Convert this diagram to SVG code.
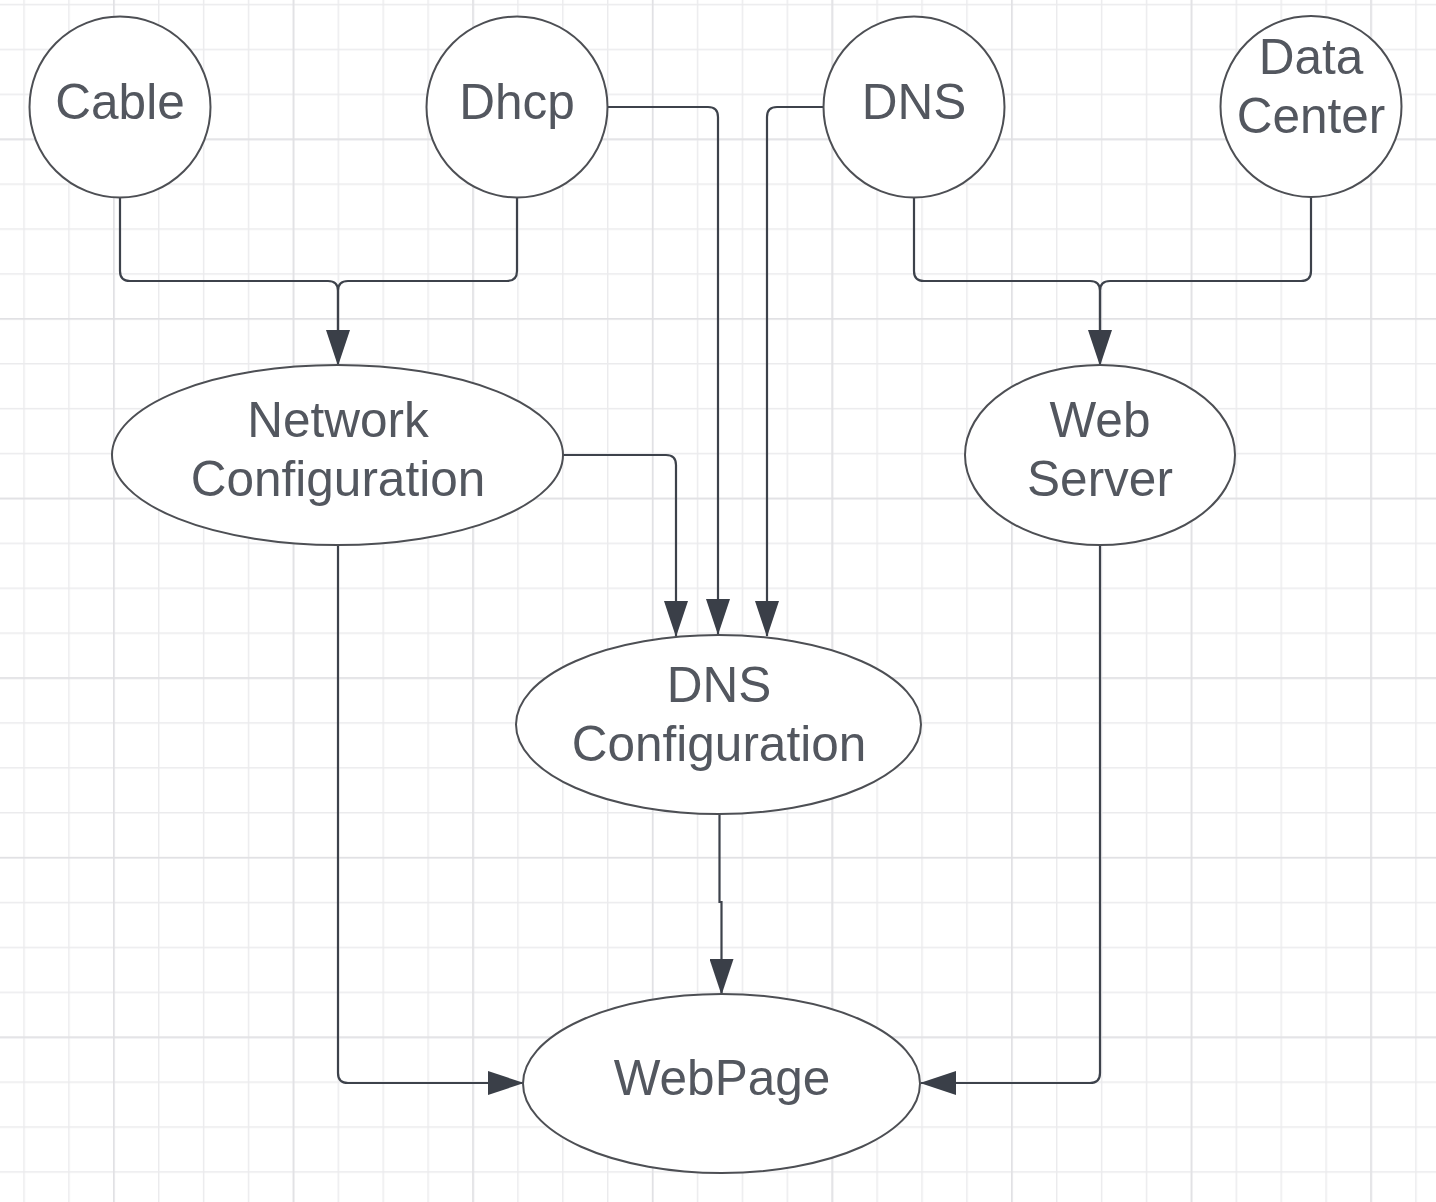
<svg xmlns="http://www.w3.org/2000/svg" width="1436" height="1202" viewBox="0 0 1436 1202">
  <defs>
    <pattern id="minor" patternUnits="userSpaceOnUse" x="23.3" y="3.8" width="44.9" height="44.9">
      <path d="M0.7,0 V44.9 M0,0.7 H44.9" fill="none" stroke="#ebebed" stroke-width="1.5"/>
    </pattern>
    <pattern id="major" patternUnits="userSpaceOnUse" x="113.1" y="138.5" width="179.6" height="179.6">
      <path d="M0.7,0 V179.6 M0,0.7 H179.6" fill="none" stroke="#e0e0e3" stroke-width="1.6"/>
    </pattern>
    <marker id="arrow" viewBox="0 0 36 24" markerWidth="36" markerHeight="24" refX="35" refY="12" orient="auto" markerUnits="userSpaceOnUse">
      <path d="M0,0 L36,12 L0,24 Z" fill="#3a3f48"/>
    </marker>
    <style>
      .node { fill: #ffffff; stroke: #4d4f54; stroke-width: 2; }
      .label { font-family: "Liberation Sans", Arial, sans-serif; font-size: 49.5px; fill: #53575f; text-anchor: middle; }
      .edge { fill: none; stroke: #3d424b; stroke-width: 2.2; }
    </style>
  </defs>

  <rect width="1436" height="1202" fill="#ffffff"/>
  <rect width="1436" height="1202" fill="url(#minor)"/>
  <rect width="1436" height="1202" fill="url(#major)"/>

  <g id="connectors">
    <path class="edge" d="M120,197 V271 Q120,281 130,281 H328 Q338,281 338,291 V365" marker-end="url(#arrow)"/>
    <path class="edge" d="M517,197 V271 Q517,281 507,281 H348 Q338,281 338,291 V330"/>
    <path class="edge" d="M607,107 H708 Q718,107 718,117 V634" marker-end="url(#arrow)"/>
    <path class="edge" d="M824,107 H777 Q767,107 767,117 V636" marker-end="url(#arrow)"/>
    <path class="edge" d="M563,455 H666 Q676,455 676,465 V636" marker-end="url(#arrow)"/>
    <path class="edge" d="M914,197 V271 Q914,281 924,281 H1090 Q1100,281 1100,291 V365" marker-end="url(#arrow)"/>
    <path class="edge" d="M1311,197 V271 Q1311,281 1301,281 H1110 Q1100,281 1100,291 V330"/>
    <path class="edge" d="M338,545 V1073 Q338,1083 348,1083 H523" marker-end="url(#arrow)"/>
    <path class="edge" d="M1100,545 V1073 Q1100,1083 1090,1083 H921" marker-end="url(#arrow)"/>
    <path class="edge" d="M719.5,814 V902 H721.5 V994" marker-end="url(#arrow)"/>
  </g>

  <g id="cable">
    <circle class="node" cx="120" cy="107" r="90.5"/>
    <text class="label" x="120" y="119">Cable</text>
  </g>
  <g id="dhcp">
    <circle class="node" cx="517" cy="107" r="90.5"/>
    <text class="label" x="517" y="119">Dhcp</text>
  </g>
  <g id="dns">
    <circle class="node" cx="914" cy="107" r="90.5"/>
    <text class="label" x="914" y="119">DNS</text>
  </g>
  <g id="data-center">
    <circle class="node" cx="1311" cy="106.5" r="90.5"/>
    <text class="label" x="1311" y="74">Data</text>
    <text class="label" x="1311" y="133">Center</text>
  </g>
  <g id="network-configuration">
    <ellipse class="node" cx="337.5" cy="455" rx="225.5" ry="90"/>
    <text class="label" x="338" y="437">Network</text>
    <text class="label" x="338" y="496">Configuration</text>
  </g>
  <g id="web-server">
    <ellipse class="node" cx="1100" cy="455" rx="135" ry="90"/>
    <text class="label" x="1100" y="437">Web</text>
    <text class="label" x="1100" y="496">Server</text>
  </g>
  <g id="dns-configuration">
    <ellipse class="node" cx="718.5" cy="724.5" rx="202.5" ry="89.5"/>
    <text class="label" x="719" y="702">DNS</text>
    <text class="label" x="719" y="761">Configuration</text>
  </g>
  <g id="webpage">
    <ellipse class="node" cx="721.5" cy="1083.5" rx="198.5" ry="89.5"/>
    <text class="label" x="722" y="1095">WebPage</text>
  </g>
</svg>
